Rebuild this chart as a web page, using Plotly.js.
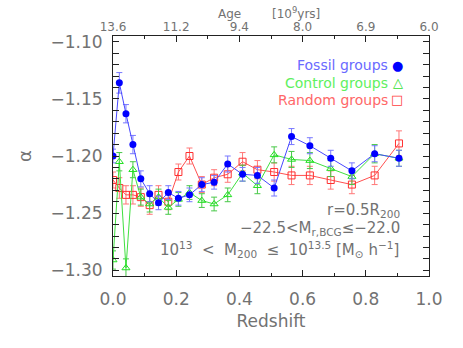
<!DOCTYPE html>
<html>
<head>
<meta charset="utf-8">
<script src="https://cdn.plot.ly/plotly-3.0.1.min.js"></script>
<style>
  html, body { margin: 0; padding: 0; background: #fff; }
  #chart { width: 463px; height: 348px; }
</style>
</head>
<body>
<div id="chart"></div>
<script>
// --- values ---
const redshift = [0.0, 0.02, 0.041, 0.063, 0.088, 0.116, 0.144, 0.175, 0.207, 0.242, 0.281,
                  0.32, 0.363, 0.41, 0.457, 0.51, 0.565, 0.623, 0.689, 0.756, 0.828, 0.905];

const fossilAlpha = [-1.200, -1.136, -1.163, -1.190, -1.220, -1.233, -1.241, -1.232, -1.237, -1.234, -1.225,
                     -1.223, -1.207, -1.216, -1.217, -1.228, -1.183, -1.191, -1.202, -1.213, -1.198, -1.202];
const fossilErr = [0.006, 0.009, 0.008, 0.008, 0.007, 0.007, 0.006, 0.006, 0.006, 0.006, 0.006,
                   0.006, 0.007, 0.006, 0.007, 0.007, 0.007, 0.007, 0.007, 0.007, 0.007, 0.007];

const controlAlpha = [-1.291, -1.205, -1.298, -1.212, -1.236, -1.242, -1.236, -1.245, -1.238, -1.232, -1.239,
                      -1.242, -1.234, -1.215, -1.226, -1.199, -1.203, -1.204, -1.211, -1.218, -1.198, -1.202];
const controlErr = [0.008, 0.008, 0.008, 0.007, 0.007, 0.007, 0.007, 0.006, 0.006, 0.006, 0.006,
                    0.006, 0.006, 0.007, 0.007, 0.007, 0.007, 0.007, 0.007, 0.007, 0.008, 0.007];

const randomAlpha = [-1.221, -1.228, -1.234, -1.234, -1.236, -1.243, -1.234, -1.240, -1.214, -1.200, -1.225,
                     -1.219, -1.216, -1.205, -1.212, -1.214, -1.217, -1.217, -1.221, -1.225, -1.217, -1.189];
const randomErr = [0.007, 0.009, 0.008, 0.008, 0.008, 0.008, 0.008, 0.007, 0.007, 0.007, 0.007,
                   0.007, 0.007, 0.008, 0.008, 0.008, 0.008, 0.008, 0.008, 0.008, 0.008, 0.011];

const ageTickZ = [0.0, 0.2, 0.4, 0.6, 0.8, 1.0];
const ageTickText = ['13.6', '11.2', '9.4', '8.0', '6.9', '6.0'];

const FONT = 'DejaVu Sans, sans-serif';
const GREY = '#727272';

function series(y, err, lineCol, errCol, marker) {
    return {
        x: redshift, y: y, type: 'scatter', mode: 'lines+markers',
        line: { color: lineCol, width: 1 },
        marker: marker,
        error_y: { type: 'data', array: err, visible: true, color: errCol, thickness: 1, width: 3 },
        hoverinfo: 'x+y', showlegend: false
    };
}

const traces = [
    series(randomAlpha, randomErr, '#ff5050', '#ff7878',
        { symbol: 'square-open', size: 7, color: '#ff3030', line: { width: 1, color: '#ff3030' } }),
    series(controlAlpha, controlErr, '#40e040', '#48c848',
        { symbol: 'triangle-up-open', size: 7, color: '#20e020', line: { width: 1, color: '#20e020' } }),
    series(fossilAlpha, fossilErr, '#4848ff', '#7878ff',
        { symbol: 'circle', size: 7, color: '#0000ff' }),
    // dummy trace to carry the top (age) axis
    { x: [0, 1], y: [null, null], xaxis: 'x2', type: 'scatter', mode: 'lines', showlegend: false, hoverinfo: 'skip' }
];

function ann(text, x, y, color, size, anchor) {
    return { text: text, x: x, y: y, xref: 'paper', yref: 'paper', showarrow: false,
             xanchor: anchor || 'right', yanchor: 'middle',
             font: { family: FONT, size: size, color: color } };
}

const layout = {
    width: 463, height: 348,
    margin: { l: 113, r: 34, t: 36, b: 72 },
    paper_bgcolor: '#fff', plot_bgcolor: '#fff',
    font: { family: FONT, color: GREY },
    xaxis: {
        range: [0, 1], tick0: 0, dtick: 0.2, tickformat: '.1f',
        ticks: 'inside', ticklen: 6, tickcolor: '#222',
        minor: { dtick: 0.1, ticks: 'inside', ticklen: 3, tickcolor: '#222' },
        showline: true, linecolor: '#222', linewidth: 1, mirror: true,
        showgrid: false, zeroline: false,
        tickfont: { family: FONT, size: 17, color: GREY },
        ticklabelstandoff: 8,
        title: { text: 'Redshift', font: { family: FONT, size: 17, color: GREY }, standoff: 6 }
    },
    xaxis2: {
        overlaying: 'x', side: 'top', range: [0, 1],
        tickmode: 'array', tickvals: ageTickZ, ticktext: ageTickText,
        ticks: 'inside', ticklen: 6, tickcolor: '#222',
        minor: { tickvals: [0.1, 0.3, 0.5, 0.7, 0.9], ticks: 'inside', ticklen: 3, tickcolor: '#222' },
        showgrid: false, zeroline: false, showline: false,
        tickfont: { family: FONT, size: 12, color: GREY },
        ticklabelstandoff: 2
    },
    yaxis: {
        range: [-1.305, -1.095], tick0: -1.30, dtick: 0.05, tickformat: '.2f',
        ticks: 'inside', ticklen: 6, tickcolor: '#222',
        minor: { dtick: 0.01, ticks: 'inside', ticklen: 3, tickcolor: '#222' },
        showline: true, linecolor: '#222', linewidth: 1, mirror: 'allticks',
        showgrid: false, zeroline: false,
        tickfont: { family: FONT, size: 17, color: GREY },
        ticklabelstandoff: 6,
        title: { text: 'α', font: { family: FONT, size: 18, color: GREY }, standoff: 14 }
    },
    annotations: [
        ann('Age', 0.37, 1.09, GREY, 12, 'center'),
        ann('[10<sup>9</sup>yrs]', 0.58, 1.095, GREY, 12, 'center'),
        ann('Fossil groups', 0.876, 0.878, '#6a6aff', 14),
        ann('●', 0.925, 0.878, '#0000ff', 13),
        ann('Control groups', 0.876, 0.806, '#60f060', 14),
        ann('△', 0.925, 0.806, '#30e030', 13),
        ann('Random groups', 0.876, 0.734, '#ff6868', 14),
        ann('□', 0.925, 0.734, '#ff4040', 13),
        ann('r=0.5R<sub>200</sub>', 0.916, 0.275, GREY, 15),
        ann('−22.5&lt;M<sub>r,BCG</sub>≤−22.0', 0.916, 0.196, GREY, 15),
        ann('10<sup>13</sup>&#160;&#160;&lt;&#160;&#160;M<sub>200</sub>&#160;&#160;≤&#160;&#160;10<sup>13.5</sup>&#160;[M<sub>⊙</sub>&#160;h<sup>−1</sup>]', 0.91, 0.112, GREY, 15)
    ]
};

Plotly.newPlot('chart', traces, layout, { displayModeBar: false, staticPlot: true });
</script>
</body>
</html>
